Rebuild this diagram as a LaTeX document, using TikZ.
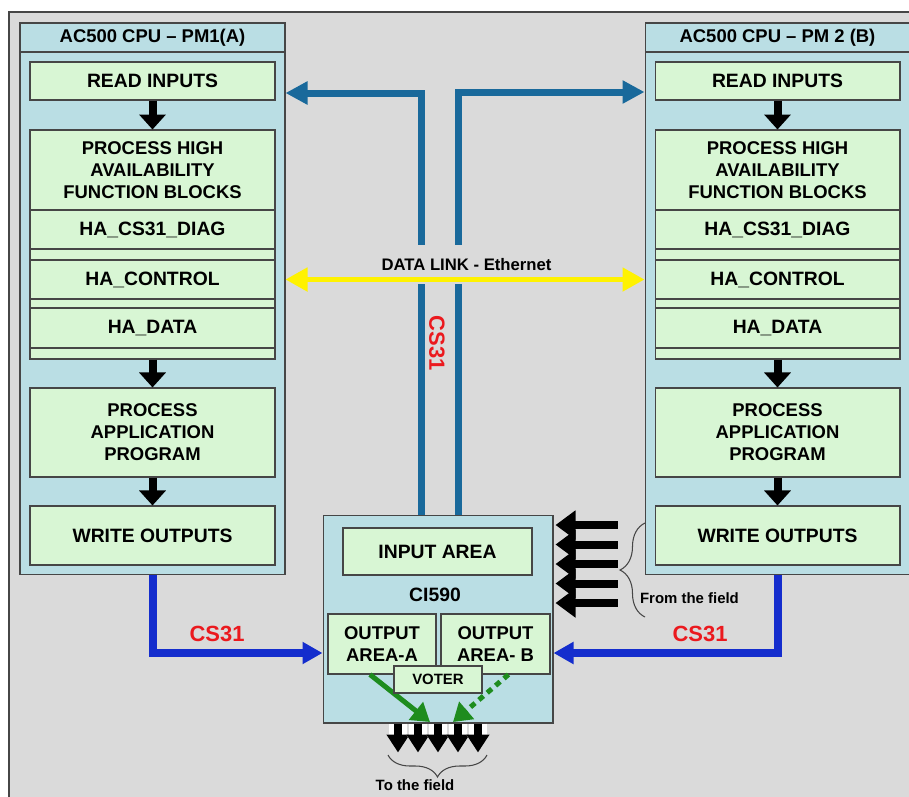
\documentclass[tikz,border=0pt]{standalone}
\usepackage{fontspec}
\setmainfont{Liberation Sans}
\usetikzlibrary{arrows.meta,decorations.pathreplacing}
\definecolor{bg}{RGB}{218,218,218}
\definecolor{cpublue}{RGB}{186,222,228}
\definecolor{lgreen}{RGB}{216,246,212}
\definecolor{edge}{RGB}{70,70,70}
\definecolor{teal}{RGB}{25,105,155}
\definecolor{csblue}{RGB}{20,45,205}
\definecolor{csred}{RGB}{235,25,30}
\definecolor{vgreen}{RGB}{30,140,30}
\tikzset{
  cpu/.style={draw=edge,fill=cpublue,line width=0.6pt,minimum width=5.3cm},
  hd/.style={cpu,minimum height=0.58cm,inner sep=1pt,font=\fontsize{10.5}{12}\bfseries},
  blk/.style={draw=edge,fill=lgreen,line width=0.6pt,minimum width=4.9cm,inner sep=1pt,align=center,font=\fontsize{11}{12.5}\bfseries},
  blk3/.style={blk,font=\fontsize{10.5}{12.5}\bfseries},
  fl/.style={line width=0.16cm,-{Triangle[width=0.52cm,length=0.3cm]}},
  csl/.style={draw=teal,line width=0.14cm,-{Triangle[width=0.44cm,length=0.44cm]}},
  csb/.style={draw=csblue,line width=0.16cm,-{Triangle[width=0.42cm,length=0.4cm]}},
  eth/.style={draw=yellow,line width=0.1cm,{Triangle[width=0.46cm,length=0.44cm]}-{Triangle[width=0.46cm,length=0.44cm]}},
  vt/.style={draw=vgreen,line width=0.1cm,-{Triangle[width=0.44cm,length=0.36cm]}},
  fieldin/.style={line width=0.16cm,-{Triangle[width=0.56cm,length=0.4cm]}},
  fieldout/.style={line width=0.16cm,-{Triangle[width=0.44cm,length=0.36cm]},preaction={draw=white,line width=0.36cm}},
  brc/.style={draw=edge,line width=0.6pt,decorate},
  lbl/.style={text=csred,font=\fontsize{12.5}{14}\bfseries},
  fld/.style={inner sep=1pt,font=\fontsize{8.5}{10}\bfseries},
}
\begin{document}
\begin{tikzpicture}[x=0.02cm,y=-0.02cm]
\useasboundingbox (0,0) rectangle (909,796);
\fill[white] (0,0) rectangle (909,796);
\draw[draw=edge,fill=bg,line width=0.6pt] (9,12) rectangle (930,820);

% PM1 (A)
\node[cpu,minimum height=11.04cm] (cpuA) at (152.5,299){};
\node[hd] (titA) at (152.5,37.5){AC500 CPU – PM1(A)};
\node[blk,minimum height=0.76cm] (readA) at (152.5,81){READ INPUTS};
\node[blk,minimum height=4.58cm] (stackA) at (152.5,244.5){};
\node[blk3,minimum height=1.6cm] (haA) at (152.5,170){PROCESS HIGH\\AVAILABILITY\\FUNCTION BLOCKS};
\node[blk,minimum height=0.78cm] (diagA) at (152.5,229.5){HA\_CS31\_DIAG};
\node[blk,minimum height=0.78cm] (ctrlA) at (152.5,279.5){HA\_CONTROL};
\node[blk,minimum height=0.8cm] (dataA) at (152.5,328){HA\_DATA};
\node[blk3,minimum height=1.78cm] (appA) at (152.5,432.5){PROCESS\\APPLICATION\\PROGRAM};
\node[blk,minimum height=1.18cm] (writeA) at (152.5,535.5){WRITE OUTPUTS};
\draw[fl] (readA)--(stackA); \draw[fl] (stackA)--(appA); \draw[fl] (appA)--(writeA);

% PM2 (B)
\node[cpu,minimum height=11.04cm] (cpuB) at (777.5,299){};
\node[hd] (titB) at (777.5,37.5){AC500 CPU – PM 2 (B)};
\node[blk,minimum height=0.76cm] (readB) at (777.5,81){READ INPUTS};
\node[blk,minimum height=4.58cm] (stackB) at (777.5,244.5){};
\node[blk3,minimum height=1.6cm] (haB) at (777.5,170){PROCESS HIGH\\AVAILABILITY\\FUNCTION BLOCKS};
\node[blk,minimum height=0.78cm] (diagB) at (777.5,229.5){HA\_CS31\_DIAG};
\node[blk,minimum height=0.78cm] (ctrlB) at (777.5,279.5){HA\_CONTROL};
\node[blk,minimum height=0.8cm] (dataB) at (777.5,328){HA\_DATA};
\node[blk3,minimum height=1.78cm] (appB) at (777.5,432.5){PROCESS\\APPLICATION\\PROGRAM};
\node[blk,minimum height=1.18cm] (writeB) at (777.5,535.5){WRITE OUTPUTS};
\draw[fl] (readB)--(stackB); \draw[fl] (stackB)--(appB); \draw[fl] (appB)--(writeB);

% CI590
\node[cpu,minimum width=4.6cm,minimum height=4.16cm] (ci) at (438,619){};
\node[blk,minimum width=3.78cm,minimum height=0.94cm] (inp) at (437.5,551.5){INPUT AREA};
\node[font=\fontsize{11}{13}\bfseries] (ciname) at (435,595){CI590};
\node[blk3,minimum width=2.16cm,minimum height=1.2cm] (outA) at (382,644){OUTPUT\\AREA-A};
\node[blk3,minimum width=2.18cm,minimum height=1.2cm] (outB) at (495.5,644){OUTPUT\\AREA- B};
\coordinate (fa) at (430,722); \coordinate (fb) at (453,722);
\draw[vt] ([xshift=-0.24cm]outA.south)--(fa);
\draw[vt,dash pattern=on 0.12cm off 0.1cm] ([xshift=0.26cm]outB.south)--(fb);
\node[blk,minimum width=1.76cm,minimum height=0.54cm,font=\fontsize{8.5}{10}\bfseries] (voter) at (438,679.5){VOTER};

% links
\draw[csl] ([xshift=-0.34cm]ci.north) |- ([yshift=-0.24cm]cpuA.east |- readA);
\draw[csl] ([xshift=0.4cm]ci.north) |- ([yshift=-0.22cm]cpuB.west |- readB);
\node[fill=bg,minimum height=0.78cm,inner sep=2pt,font=\fontsize{9.5}{11}\bfseries] (dl) at (466.5,264.5){DATA LINK - Ethernet};
\draw[eth] (cpuA.east |- ctrlA)--(cpuB.west |- ctrlB);
\node[lbl,rotate=-90] (csV) at (437,343){CS31};
\draw[csb] (cpuA.south) |- ([yshift=-0.68cm]ci.west);
\draw[csb] (cpuB.south) |- ([yshift=-0.68cm]ci.east);
\node[lbl] (csA) at (217,634){CS31}; \node[lbl] (csB) at (700,634){CS31};

% field
\foreach \i in {0,...,4}
  \draw[fieldin] ([shift={(64,-94+19.5*\i)}]ci.east)--([shift={(2,-94+19.5*\i)}]ci.east);
\draw[brc,decoration={brace,amplitude=0.5cm}] (645,617)--(645,523);
\node[fld,anchor=west] (from) at (638,598){From the field};
\foreach \i in {-2,...,2}
  \draw[fieldout] ([xshift=\i*0.4cm]ci.south)--++(0,29);
\draw[brc,decoration={brace,amplitude=0.44cm}] (487,755)--(388,755);
\node[fld] (to) at (415,785){To the field};
\end{tikzpicture}
\end{document}
